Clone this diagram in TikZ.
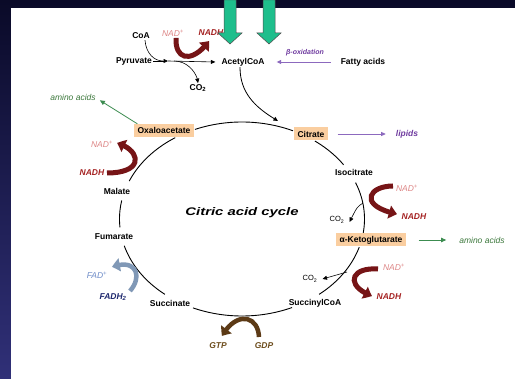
\documentclass[tikz,border=0pt]{standalone}
\usepackage{fontspec}
\setmainfont{Liberation Sans}
\usetikzlibrary{arrows.meta,bending}
\definecolor{peach}{RGB}{250,206,160}
\definecolor{nadpc}{RGB}{222,135,135}
\definecolor{nadhc}{RGB}{165,35,35}
\definecolor{maroon}{RGB}{118,20,22}
\definecolor{grntxt}{RGB}{60,120,60}
\definecolor{grnline}{RGB}{60,140,80}
\definecolor{purtxt}{RGB}{112,60,160}
\definecolor{purline}{RGB}{140,105,190}
\definecolor{brntxt}{RGB}{110,78,30}
\definecolor{brnline}{RGB}{92,58,22}
\definecolor{fadpc}{RGB}{110,140,200}
\definecolor{fadhc}{RGB}{30,40,110}
\definecolor{fadline}{RGB}{128,152,182}
\definecolor{teal}{RGB}{30,190,140}
\definecolor{navytop}{RGB}{10,10,40}
\definecolor{navybot}{RGB}{48,48,120}
\newcommand\cycarc[2]{\draw[cycline] plot[domain=#1:#2, samples=40, smooth] ({242+122.5*cos(\x)},{219+97*sin(\x)});}
\begin{document}
\begin{tikzpicture}[x=1pt,y=-1pt,
  lbl/.style={font=\fontsize{8.5}{9}\selectfont\bfseries, inner sep=1pt},
  sml/.style={font=\fontsize{7.5}{8}\selectfont, inner sep=1pt},
  nadp/.style={font=\fontsize{8.5}{9}\selectfont\itshape, text=nadpc, inner sep=1pt},
  nadh/.style={font=\fontsize{8.5}{9}\selectfont\bfseries\itshape, text=nadhc, inner sep=1pt},
  grn/.style={font=\fontsize{8.5}{9}\selectfont\itshape, text=grntxt, inner sep=1pt},
  purp/.style={font=\fontsize{8.5}{9}\selectfont\bfseries\itshape, text=purtxt, inner sep=1pt},
  brn/.style={font=\fontsize{8.5}{9}\selectfont\bfseries\itshape, text=brntxt, inner sep=1pt},
  fadp/.style={font=\fontsize{8.5}{9}\selectfont\itshape, text=fadpc, inner sep=1pt},
  fadh/.style={font=\fontsize{8.5}{9}\selectfont\bfseries\itshape, text=fadhc, inner sep=1pt},
  boxed/.style={lbl, fill=peach, inner xsep=4pt, minimum height=13pt},
  cycline/.style={line width=0.9pt, black},
  thinarrow/.style={line width=0.6pt, -{Triangle[length=4.5pt,width=4pt]}},
  fat/.style={line width=5pt, -{Triangle[length=8pt,width=13pt,bend]}},
  gblock/.style={fill=teal, draw=black!70, line width=0.5pt}
]
\useasboundingbox (0,0) rectangle (515,379);
% background
\shade[top color=navytop, bottom color=navybot] (0,0) rectangle (515,379);
\fill[white] (11,8) rectangle (515,379);

% cycle
\cycarc{-112.6}{-65.4}
\cycarc{-53.5}{-34}
\cycarc{-22}{8.3}
\cycarc{16.8}{51}
\cycarc{65.9}{113.6}
\cycarc{129}{164}
\cycarc{175}{191}
\cycarc{203}{237}

% nodes
\node[lbl] (coa) at (141,36) {CoA};
\node[nadp] (nad1) at (173,33) {NAD\textsuperscript{+}};
\node[nadh] (nadh1) at (211,33) {NADH};
\node[lbl] (pyr) at (134,61) {Pyruvate};
\node[lbl] (acoa) at (243,62) {AcetylCoA};
\node[lbl] (co2a) at (198,88) {CO\textsubscript{2}};
\node[purp, font=\fontsize{7}{8}\selectfont\bfseries\itshape] (box) at (305,53) {β-oxidation};
\node[lbl] (fa) at (363,62) {Fatty acids};
\node[grn] (aa1) at (73,97) {amino acids};
\node[boxed] (oxa) at (164,130.5) {Oxaloacetate};
\node[boxed] (cit) at (311,134) {Citrate};
\node[purp] (lip) at (407,134) {lipids};
\node[lbl] (iso) at (354,172) {Isocitrate};
\node[nadp] (nad2) at (407,188) {NAD\textsuperscript{+}};
\node[nadh] (nadh2) at (414,217) {NADH};
\node[sml] (co2b) at (337,220) {CO\textsubscript{2}};
\node[boxed] (akg) at (371,240) {α-Ketoglutarate};
\node[grn] (aa2) at (482,240) {amino acids};
\node[nadp] (nad3) at (394,267) {NAD\textsuperscript{+}};
\node[nadh] (nadh3) at (389,297) {NADH};
\node[sml] (co2c) at (310,279) {CO\textsubscript{2}};
\node[lbl] (suc) at (315,303) {SuccinylCoA};
\node[brn] (gdp) at (264,346) {GDP};
\node[brn] (gtp) at (218,346) {GTP};
\node[lbl] (succ) at (170,303) {Succinate};
\node[fadp] (fad) at (97,275) {FAD\textsuperscript{+}};
\node[fadh] (fadh) at (113,297) {FADH\textsubscript{2}};
\node[lbl] (fum) at (114,237) {Fumarate};
\node[lbl] (mal) at (117,191) {Malate};
\node[nadp] (nad4) at (102,144) {NAD\textsuperscript{+}};
\node[nadh] (nadh4) at (92,173) {NADH};
\node[font=\fontsize{11}{12}\selectfont\bfseries\itshape] (cac) at (242,213) {\scalebox{1.35}[1]{Citric acid cycle}};

% pyruvate -> acetyl CoA
\coordinate (pm) at (168,61);
\coordinate (jn) at (163,61);
\coordinate (jc) at (174,61);
\draw[thinarrow] (pyr.east) -- (pm);
\draw[thinarrow] (pm) -- ([xshift=-5pt]acoa.west);
\draw[line width=0.6pt] ([xshift=4pt]coa.south) .. controls +(1,13) and +(-9,0) .. (jn);
\draw[thinarrow] (jc) .. controls +(15,0) and +(0,-8) .. (co2a.north);
\draw[fat, maroon] (176,38) .. controls (175,61) and (193,63) .. (209,41);

% acetyl CoA -> cycle
\coordinate (entry) at (278,121);
\draw[thinarrow, line width=0.8pt] ([xshift=-3pt]acoa.south) .. controls +(0,28) and +(-20,-12) .. (entry);

% fatty acids
\draw[purline, line width=0.7pt, -{Triangle[length=4.5pt,width=4pt]}] ([xshift=-9pt]fa.west) -- ([xshift=11pt]acoa.east);
\draw[purline, line width=0.7pt, -{Triangle[length=4.5pt,width=4pt]}] ([xshift=9pt]cit.east) -- ([xshift=-9pt]lip.west);

% amino acids
\draw[grnline, line width=0.8pt, -{Triangle[length=5pt,width=4.5pt]}] ([xshift=4pt]oxa.north west) -- ([xshift=3pt,yshift=1pt]aa1.south east);
\draw[grnline, line width=0.8pt, -{Triangle[length=5pt,width=4.5pt]}] ([xshift=12pt]akg.east) -- ([xshift=-12pt]aa2.west);

% isocitrate -> alpha-KG
\draw[thinarrow] (363,203) .. controls (357,207) .. ([xshift=4pt,yshift=-2pt]co2b.east);
\draw[fat, maroon] (393,186) .. controls (368,186) and (358,206) .. (397,214);

% alpha-KG -> succinylCoA
\draw[thinarrow] (347,272) -- ([xshift=4pt]co2c.east);
\draw[fat, maroon] (378,269) .. controls (350,267) and (345,286) .. (372,296);

% succinylCoA -> succinate
\draw[fat, brnline, line width=4.5pt] (259,337) .. controls (258,315) and (236,311) .. (222,336);

% succinate -> fumarate
\draw[fat, fadline, line width=4.5pt] (130,291) .. controls (143,276) and (136,258) .. (112,267);

% malate -> oxaloacetate
\draw[fat, maroon] (107,173) .. controls (145,173) and (141,150) .. (117,143);

% green block arrows
\fill[gblock] (224,0) -- (236,0) -- (236,33) -- (242,33) -- (230,44) -- (218,33) -- (224,33) -- cycle;
\fill[gblock] (263,0) -- (275,0) -- (275,33) -- (281,33) -- (269,44) -- (257,33) -- (263,33) -- cycle;
\end{tikzpicture}
\end{document}
